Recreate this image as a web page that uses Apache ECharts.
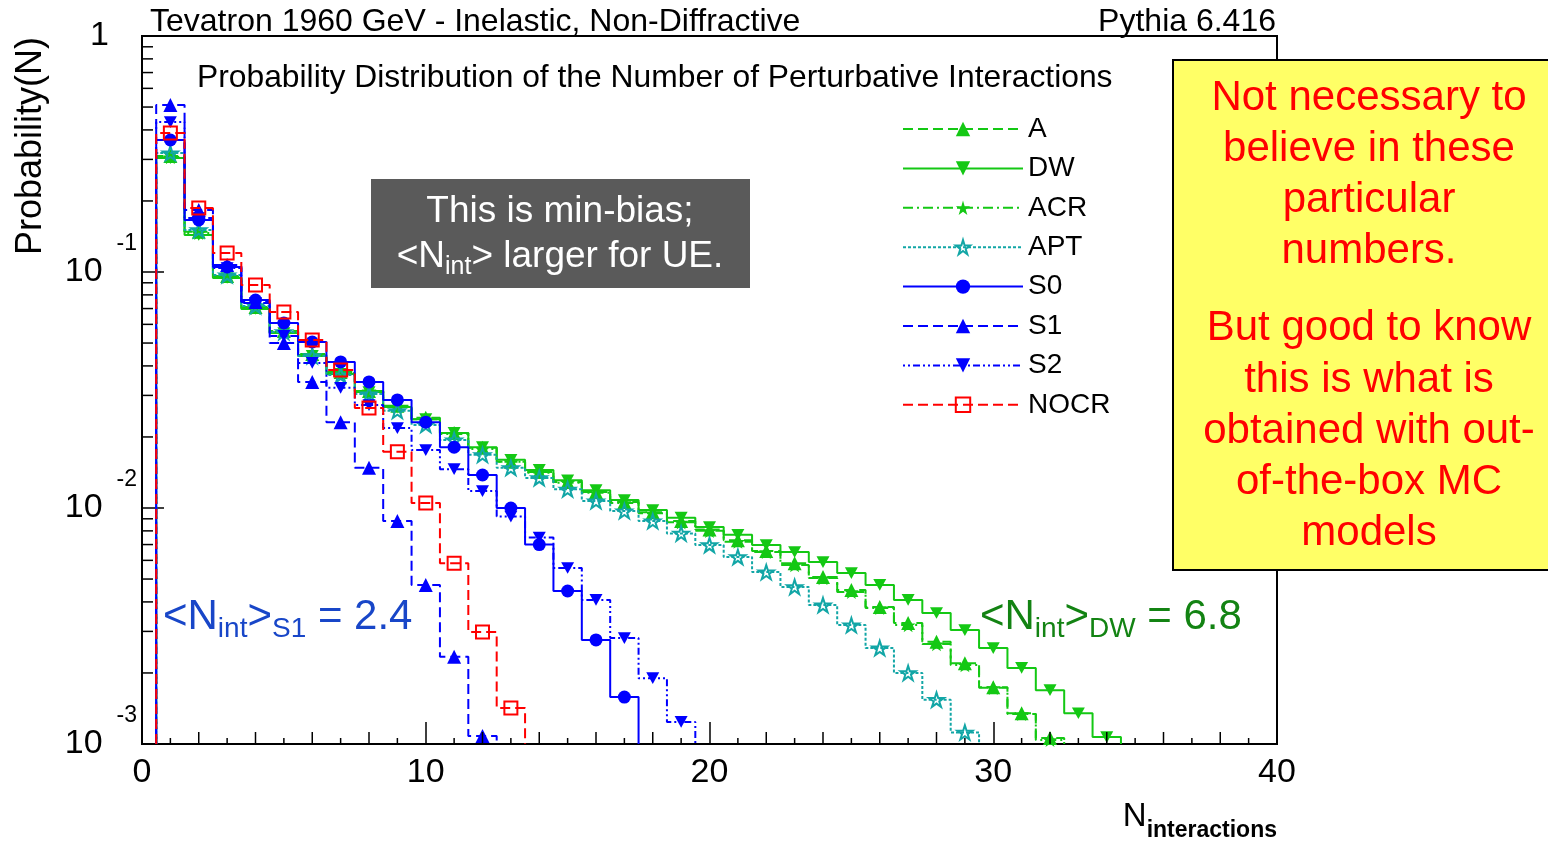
<!DOCTYPE html>
<html>
<head>
<meta charset="utf-8">
<script src="https://cdn.jsdelivr.net/npm/echarts@6/dist/echarts.min.js"></script>
<style>
html,body{margin:0;padding:0;background:#fff;}
#chart{width:1548px;height:843px;}
</style>
</head>
<body>
<div id="chart"></div>
<script>
// ---------------- data (probability per number of interactions, bins N = 1,2,3,...) ----------------
const modelNames = ['A', 'DW', 'ACR', 'APT', 'S0', 'S1', 'S2', 'NOCR'];
const probA   = [0.310, 0.148, 0.0962, 0.0711, 0.0562, 0.0449, 0.0377, 0.0313, 0.0271, 0.0241, 0.0208, 0.0180, 0.0157, 0.0142, 0.0129, 0.0117, 0.0106, 0.0096, 0.0088, 0.0081, 0.0073, 0.00657, 0.00584, 0.00510, 0.00449, 0.00381, 0.00326, 0.00271, 0.00220, 0.00174, 0.00135, 0.00106];
const probDW  = [0.304, 0.1435, 0.0943, 0.0697, 0.0551, 0.0441, 0.0370, 0.0310, 0.0268, 0.0238, 0.0208, 0.0181, 0.0160, 0.0145, 0.0131, 0.0119, 0.0108, 0.0098, 0.0091, 0.0083, 0.0077, 0.00697, 0.00651, 0.00590, 0.00530, 0.00472, 0.00408, 0.00359, 0.00304, 0.00255, 0.00210, 0.00169, 0.00135, 0.00107];
const probACR = [0.307, 0.1463, 0.0953, 0.0704, 0.0557, 0.0445, 0.0373, 0.0313, 0.0268, 0.0238, 0.0206, 0.0178, 0.0157, 0.0141, 0.0128, 0.0116, 0.0105, 0.0095, 0.0087, 0.0080, 0.0072, 0.00651, 0.00573, 0.00505, 0.00441, 0.00377, 0.00319, 0.00265, 0.00216, 0.00173, 0.00134, 0.00104];
const probAPT = [0.319, 0.1507, 0.0971, 0.0718, 0.0557, 0.0441, 0.0366, 0.0304, 0.0258, 0.0225, 0.0194, 0.0168, 0.0148, 0.0134, 0.0120, 0.0107, 0.0097, 0.0088, 0.0078, 0.00697, 0.00620, 0.00535, 0.00463, 0.00388, 0.00319, 0.00255, 0.00200, 0.00154, 0.00112];
const probS0  = [0.3625, 0.1661, 0.1050, 0.0761, 0.0608, 0.0505, 0.0416, 0.0342, 0.0287, 0.0231, 0.0181, 0.0138, 0.0100, 0.0070, 0.00445, 0.00276, 0.00158];
const probS1  = [0.510, 0.183, 0.1071, 0.0746, 0.0500, 0.0342, 0.0231, 0.0148, 0.0088, 0.00472, 0.00234, 0.00108];
const probS2  = [0.432, 0.1694, 0.1040, 0.0739, 0.0536, 0.0412, 0.0323, 0.0273, 0.0218, 0.0176, 0.0146, 0.0118, 0.0092, 0.0075, 0.00557, 0.00408, 0.00281, 0.00190, 0.00124];
const probNOCR= [0.388, 0.1867, 0.1204, 0.0881, 0.0677, 0.0515, 0.0384, 0.0265, 0.0173, 0.0105, 0.00584, 0.00298, 0.00142];

// axis ranges and tick values
const xMin = 0, xMax = 40, xMajor = 10;
const yMin = 0.001, yMax = 1;
const xMinorTicks = [1,2,3,4,5,6,7,8,9,11,12,13,14,15,16,17,18,19,21,22,23,24,25,26,27,28,29,31,32,33,34,35,36,37,38,39];
const yMinorTicks = [0.002,0.003,0.004,0.005,0.006,0.007,0.008,0.009,0.02,0.03,0.04,0.05,0.06,0.07,0.08,0.09,0.2,0.3,0.4,0.5,0.6,0.7,0.8,0.9];

// ---------------- build ----------------
const FONT = '"Liberation Sans", Arial, Helvetica, sans-serif';
const GREEN = '#14c814', CYAN = '#12a6a6', BLUE = '#0000ff', RED = '#ff0000';
const INV_TRI = 'path://M0,0 L10,0 L5,9 Z';
const STAR = 'path://M50,0 L61,35 L98,35 L68,57 L79,91 L50,70 L21,91 L32,57 L2,35 L39,35 Z';

// histogram step outline: bins centred on integers, width 1
function stepData(vals) {
  const d = [{ value: [0.5, yMin], symbol: 'none' }];
  vals.forEach((v, i) => {
    const c = i + 1;
    d.push({ value: [c - 0.5, v], symbol: 'none' });
    d.push({ value: [c, v] });
    d.push({ value: [c + 0.5, v], symbol: 'none' });
  });
  d.push({ value: [vals.length + 0.5, yMin], symbol: 'none' });
  return d;
}

const styles = {
  A:    { vals: probA,    color: GREEN, dash: [10, 5],            symbol: 'triangle', size: 14, fill: GREEN },
  DW:   { vals: probDW,   color: GREEN, dash: 'solid',            symbol: INV_TRI,    size: 13, fill: GREEN },
  ACR:  { vals: probACR,  color: GREEN, dash: [10, 4, 2, 4],      symbol: STAR,       size: 15, fill: GREEN },
  APT:  { vals: probAPT,  color: CYAN,  dash: [3, 2],             symbol: STAR,       size: 15, fill: 'rgba(0,0,0,0)' },
  S0:   { vals: probS0,   color: BLUE,  dash: 'solid',            symbol: 'circle',   size: 13, fill: BLUE },
  S1:   { vals: probS1,   color: BLUE,  dash: [10, 5],            symbol: 'triangle', size: 14, fill: BLUE },
  S2:   { vals: probS2,   color: BLUE,  dash: [2, 3, 2, 3, 7, 3], symbol: INV_TRI,    size: 13, fill: BLUE },
  NOCR: { vals: probNOCR, color: RED,   dash: [10, 5],            symbol: 'rect',     size: 13, fill: 'rgba(0,0,0,0)' }
};

const series = modelNames.map((name, k) => {
  const s = styles[name];
  const open = s.fill !== s.color;
  return {
    name: name,
    type: 'line',
    data: stepData(s.vals),
    symbol: s.symbol,
    symbolSize: s.size,
    showSymbol: true,
    showAllSymbol: true,
    symbolKeepAspect: true,
    z: 3 + k,
    lineStyle: { color: s.color, width: 2, type: s.dash },
    itemStyle: { color: s.fill, borderColor: s.color, borderWidth: open ? 2 : 0 },
    emphasis: { disabled: true },
    animation: false
  };
});

// minor ticks (drawn through the axis scales)
series.push({
  type: 'custom', name: 'xMinor', silent: true, z: 20, animation: false,
  data: xMinorTicks.map(v => [v, yMin]),
  renderItem: (params, api) => {
    const x = api.value(0);
    const p = api.coord([x, api.value(1)]);
    const len = (x % 2 === 0) ? 12 : 6;
    return { type: 'line', shape: { x1: p[0], y1: p[1], x2: p[0], y2: p[1] - len }, style: { stroke: '#000', lineWidth: 1.5 } };
  }
});
series.push({
  type: 'custom', name: 'yMinor', silent: true, z: 20, animation: false,
  data: yMinorTicks.map(v => [xMin, v]),
  renderItem: (params, api) => {
    const p = api.coord([api.value(0), api.value(1)]);
    return { type: 'line', shape: { x1: p[0], y1: p[1], x2: p[0] + 11, y2: p[1] }, style: { stroke: '#000', lineWidth: 1.5 } };
  }
});

const option = {
  backgroundColor: '#fff',
  animation: false,
  grid: { left: 142, right: 271, top: 36, bottom: 99, show: true, borderColor: '#000', borderWidth: 2, containLabel: false, outerBoundsMode: 'none' },
  xAxis: {
    type: 'value', min: xMin, max: xMax, interval: xMajor,
    splitLine: { show: false },
    axisLine: { show: false },
    axisTick: { show: true, inside: true, length: 22, lineStyle: { color: '#000', width: 1.5 } },
    axisLabel: { color: '#000', fontSize: 34, fontFamily: FONT, margin: 12 }
  },
  yAxis: {
    type: 'log', logBase: 10, min: yMin, max: yMax,
    splitLine: { show: false },
    axisLine: { show: false },
    axisTick: { show: true, inside: true, length: 22, lineStyle: { color: '#000', width: 1.5 } },
    axisLabel: {
      color: '#000', margin: 5,
      formatter: v => {
        const e = Math.round(Math.log10(v));
        return e === 0 ? '{b|1}{g1| }' : '{b|10}{g| }{s|' + e + '}';
      },
      rich: {
        b: { fontSize: 34, lineHeight: 80, fontFamily: FONT, color: '#000' },
        g: { width: 14, fontSize: 10 },
        g1: { width: 28, fontSize: 10 },
        s: { fontSize: 23, lineHeight: 23, verticalAlign: 'top', fontFamily: FONT, color: '#000' }
      }
    }
  },
  legend: {
    data: modelNames,
    orient: 'vertical', left: 897, top: 110,
    itemWidth: 120, itemHeight: 18, itemGap: 11.4,
    selectedMode: false,
    textStyle: { fontSize: 28, lineHeight: 26, fontFamily: FONT, color: '#000' }
  },
  series: series,
  graphic: [
    { type: 'text', x: 150, y: 22, z: 50, style: { text: 'Tevatron 1960 GeV - Inelastic, Non-Diffractive', font: '32px ' + FONT, fill: '#000', align: 'left', verticalAlign: 'middle' } },
    { type: 'text', x: 1276, y: 22, z: 50, style: { text: 'Pythia 6.416', font: '32px ' + FONT, fill: '#000', align: 'right', verticalAlign: 'middle' } },
    { type: 'text', x: 197, y: 78, z: 50, style: { text: 'Probability Distribution of the Number of Perturbative Interactions', font: '31.8px ' + FONT, fill: '#000', align: 'left', verticalAlign: 'middle' } },
    { type: 'text', x: 31, y: 37, rotation: Math.PI / 2, z: 50, style: { text: 'Probability(N)', font: '36px ' + FONT, fill: '#000', align: 'right', verticalAlign: 'middle' } },
    { type: 'text', x: 1277, y: 817, z: 50, style: {
        text: '{n|N}{s|interactions}', align: 'right', verticalAlign: 'middle',
        rich: { n: { fontSize: 33, lineHeight: 50, fontFamily: FONT, fill: '#000' },
                s: { fontSize: 23, lineHeight: 23, fontWeight: 'bold', verticalAlign: 'bottom', fontFamily: FONT, fill: '#000' } } } },
    // grey note
    { type: 'rect', z: 40, shape: { x: 371, y: 179, width: 379, height: 109 }, style: { fill: '#5a5a5a' } },
    { type: 'text', x: 560, y: 212, z: 50, style: { text: 'This is min-bias;', font: '37px ' + FONT, fill: '#fff', align: 'center', verticalAlign: 'middle' } },
    { type: 'text', x: 560, y: 257, z: 50, style: {
        text: '{m|<N}{u|int}{m|> larger for UE.}', align: 'center', verticalAlign: 'middle',
        rich: { m: { fontSize: 37, lineHeight: 46, fontFamily: FONT, fill: '#fff' },
                u: { fontSize: 25, lineHeight: 25, verticalAlign: 'bottom', fontFamily: FONT, fill: '#fff' } } } },
    // yellow note
    { type: 'rect', z: 40, shape: { x: 1173, y: 60, width: 390, height: 510 }, style: { fill: '#ffff66', stroke: '#000', lineWidth: 2 } },
    { type: 'text', x: 1369, y: 73, z: 50, style: { text: 'Not necessary to\nbelieve in these\nparticular\nnumbers.', font: '42px ' + FONT, lineHeight: 51, fill: RED, align: 'center', verticalAlign: 'top' } },
    { type: 'text', x: 1369, y: 303, z: 50, style: { text: 'But good to know\nthis is what is\nobtained with out-\nof-the-box MC\nmodels', font: '42px ' + FONT, lineHeight: 51.3, fill: RED, align: 'center', verticalAlign: 'top' } },
    // mean annotations
    { type: 'text', x: 163, y: 617, z: 50, style: {
        text: '{m|<N}{u|int}{m|>}{u|S1}{m| = 2.4}', align: 'left', verticalAlign: 'middle',
        rich: { m: { fontSize: 42, lineHeight: 52, fontFamily: FONT, fill: '#1846c8' },
                u: { fontSize: 28, lineHeight: 28, verticalAlign: 'bottom', fontFamily: FONT, fill: '#1846c8' } } } },
    { type: 'text', x: 980, y: 617, z: 50, style: {
        text: '{m|<N}{u|int}{m|>}{u|DW}{m| = 6.8}', align: 'left', verticalAlign: 'middle',
        rich: { m: { fontSize: 42, lineHeight: 52, fontFamily: FONT, fill: '#138313' },
                u: { fontSize: 28, lineHeight: 28, verticalAlign: 'bottom', fontFamily: FONT, fill: '#138313' } } } }
  ]
};

const chart = echarts.init(document.getElementById('chart'), null, { renderer: 'canvas' });
chart.setOption(option);
</script>
</body>
</html>
